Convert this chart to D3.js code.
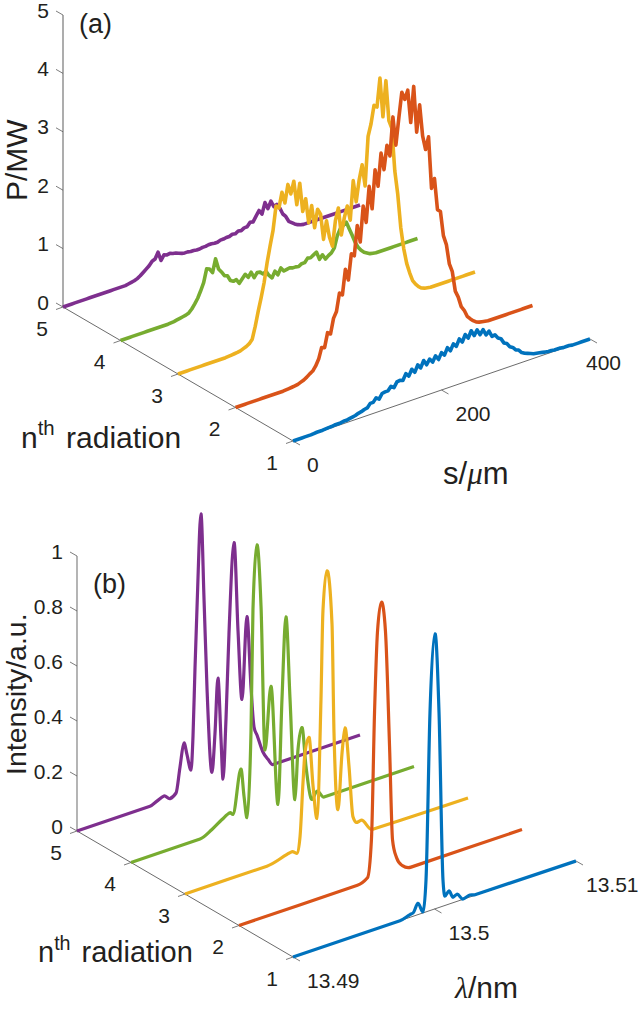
<!DOCTYPE html>
<html>
<head>
<meta charset="utf-8">
<script src="https://cdn.jsdelivr.net/npm/d3@7"></script>
<style>
body { margin: 0; background: #fff; }
svg { display: block; }
text { font-family: "Liberation Sans", Arial, sans-serif; fill: #231f20; }
</style>
</head>
<body>
<div id="plot"></div>
<script>
const width = 640
const height = 1011

const radiationOrder = [5, 4, 3, 2, 1]
const radiationTicks = [1, 2, 3, 4, 5]
const powerTicks = [0, 1, 2, 3, 4, 5]
const positionTicks = [0, 200, 400]
const intensityTicks = [0, 0.2, 0.4, 0.6, 0.8, 1]
const wavelengthTicks = [13.49, 13.5, 13.51]

// s in um, every 4 um
const positionGrid = d3.range(0, 404, 4)

const powerN1 = [
  0, 0, 0, 0, 0, 0, 0, .005, .01, .01,
  .01, .015, .02, .02, .03, .03, .03, .04, .04, .05,
  .06, .07, .09, .1, .12, .13, .19, .19, .25, .21,
  .29, .3, .3, .36, .32, .4, .41, .39, .49, .43,
  .53, .46, .57, .5, .61, .52, .6, .53, .62, .54,
  .64, .58, .69, .62, .72, .66, .77, .7, .81, .73,
  .84, .74, .82, .72, .79, .68, .73, .62, .63, .56,
  .53, .44, .41, .34, .31, .25, .23, .17, .14, .12,
  .1, .08, .07, .06, .05, .04, .03, .03, .02, .02,
  .02, .01, .01, .01, 0, 0, 0, 0, 0, 0,
  0]
const powerN2 = [
  0, 0, 0, 0, 0, 0, 0, 0, 0, 0,
  0, 0, 0, 0, 0, 0, 0, .005, .01, .015,
  .02, .03, .05, .07, .1, .14, .17, .24, .34, .52,
  .5, .74, .7, .95, 1.05, 1.35, 1.3, 1.72, 1.52, 1.95,
  1.9, 2.4, 2.1, 2.7, 2.4, 3.0, 2.6, 3.25, 2.95, 3.5,
  3.2, 3.6, 3.4, 4.05, 3.55, 4.0, 4.42, 4.28, 4.42, 3.85,
  4.45, 3.65, 4.1, 3.55, 3.3, 3.5, 2.6, 2.75, 2.2, 2.15,
  1.72, 1.55, 1.2, 1.05, .7, .58, .4, .32, .2, .14,
  .09, .05, .03, .02, .01, 0, 0, 0, 0, 0,
  0, 0, 0, 0, 0, 0, 0, 0, 0, 0,
  0]
const powerN3 = [
  0, 0, 0, 0, 0, 0, 0, 0, 0, 0,
  0, 0, 0, 0, 0, 0, 0, .005, .01, .015,
  .02, .03, .05, .07, .1, .16, .36, .6, .82, 1.06,
  1.38, 1.65, 1.9, 2.3, 2.25, 2.5, 2.3, 2.6, 2.42, 2.62,
  2.2, 2.55, 2.05, 2.25, 1.82, 2.1, 1.7, 2.0, 1.9, 1.45,
  1.75, 1.45, 1.28, 1.7, 1.9, 1.42, 1.7, 1.88, 1.62, 2.28,
  1.9, 2.26, 2.5, 2.12, 2.95, 3.15, 3.45, 3.4, 3.88, 3.2,
  3.8, 3.1, 2.95, 2.2, 1.78, 1.2, .82, .55, .37, .22,
  .14, .08, .04, .02, .01, 0, 0, 0, 0, 0,
  0, 0, 0, 0, 0, 0, 0, 0, 0, 0,
  0]
const powerN4 = [
  0, 0, 0, 0, 0, 0, 0, 0, 0, 0,
  0, 0, 0, 0, 0, 0, 0, .005, .01, .02,
  .03, .04, .05, .07, .12, .19, .27, .38, .5, .72,
  .7, .62, .84, .65, .58, .5, .48, .38, .35, .36,
  .28, .34, .4, .33, .4, .29, .36, .35, .3, .33,
  .24, .18, .28, .2, .3, .23, .24, .25, .23, .23,
  .22, .25, .25, .31, .3, .33, .36, .22, .28, .19,
  .23, .26, .33, .52, .62, .66, .7, .57, .44, .3,
  .2, .13, .08, .05, .02, .01, 0, 0, 0, 0,
  0, 0, 0, 0, 0, 0, 0, 0, 0, 0,
  0]
const powerN5 = [
  0, 0, 0, 0, 0, 0, 0, 0, 0, 0,
  0, 0, 0, 0, 0, 0, 0, 0, 0, 0,
  0, 0, .01, .02, .03, .05, .08, .12, .16, .2,
  .26, .28, .38, .22, .3, .28, .29, .27, .26, .24,
  .22, .21, .21, .2, .2, .19, .19, .2, .2, .21,
  .21, .2, .2, .22, .22, .23, .23, .25, .24, .27,
  .26, .29, .29, .35, .34, .42, .5, .42, .6, .48,
  .59, .48, .5, .42, .3, .24, .14, .1, .06, .03,
  .01, 0, 0, 0, 0, 0, 0, 0, 0, 0,
  0, 0, 0, 0, 0, 0, 0, 0, 0, 0,
  0]

const lambdaN1 = [13.49, 13.49756, 13.49827, 13.49848, 13.49883, 13.49919, 13.4994, 13.49968, 13.50004, 13.50032, 13.5006, 13.50074, 13.50102, 13.50131, 13.50159, 13.50201, 13.50251, 13.50286, 13.51]
const intensityN1 = [0, 0, .01, .012, .041, .004, .116, .718, 1, .708, .095, .034, .048, .02, .026, .001, .007, .002, 0]

const lambdaN2 = [13.49, 13.49837, 13.49908, 13.49936, 13.49958, 13.49979, 13.50007, 13.50035, 13.50064, 13.50085, 13.50113, 13.50155, 13.50216, 13.51]
const intensityN2 = [0, 0, .015, .149, .611, .9, 1, .89, .465, .122, .053, .016, 0, 0]

const lambdaN3 = [13.49, 13.49579, 13.49721, 13.49756, 13.49792, 13.49813, 13.49834, 13.49848, 13.49876, 13.49905, 13.49933, 13.49961, 13.49975, 13.50004, 13.50039, 13.50053, 13.50081, 13.5011, 13.50131, 13.50159, 13.50187, 13.50216, 13.50244, 13.50322, 13.51]
const intensityN3 = [0, 0, .018, .022, .01, .067, .26, .366, .417, .234, .112, .54, .86, 1, .8, .403, .118, .32, .407, .262, .074, .048, .051, .004, 0]

const lambdaN4 = [13.49, 13.49488, 13.49572, 13.49643, 13.497, 13.49721, 13.49777, 13.49799, 13.4982, 13.49848, 13.49862, 13.4989, 13.49919, 13.49947, 13.49989, 13.50039, 13.50067, 13.50095, 13.50124, 13.50159, 13.5018, 13.50208, 13.50237, 13.50279, 13.50314, 13.50364, 13.51]
const intensityN4 = [0, 0, .02, .044, .059, .049, .204, .1, .02, .326, .77, 1, .77, .244, .468, .03, .407, .702, .397, .026, .204, .28, .132, .006, .03, 0, 0]

const lambdaN5 = [13.49, 13.49516, 13.49565, 13.49615, 13.49657, 13.497, 13.49728, 13.49756, 13.49777, 13.49806, 13.4982, 13.49834, 13.4985, 13.49876, 13.49898, 13.49919, 13.49954, 13.49975, 13.49996, 13.50018, 13.50032, 13.50053, 13.50074, 13.5011, 13.50138, 13.50166, 13.50201, 13.5023, 13.50251, 13.50272, 13.50314, 13.5035, 13.50385, 13.51]
const intensityN5 = [0, 0, .01, .02, .003, .016, .106, .188, .143, .081, .204, .448, .692, 1, .682, .356, .047, .183, .382, .153, .009, .224, .529, .855, .529, .275, .57, .305, .16, .127, .058, .025, 0, 0]

const lineColor = {1: '#0072bd', 2: '#d95319', 3: '#edb120', 4: '#77ac30', 5: '#7e2f8e'}

const powerLines = {1: powerN1, 2: powerN2, 3: powerN3, 4: powerN4, 5: powerN5}
const lambdaLines = {1: lambdaN1, 2: lambdaN2, 3: lambdaN3, 4: lambdaN4, 5: lambdaN5}
const intensityLines = {1: intensityN1, 2: intensityN2, 3: intensityN3, 4: intensityN4, 5: intensityN5}

// initialize svg
const svg = d3.select('div#plot').append('svg')
    .attr('width', width)
    .attr('height', height)
    .attr('viewBox', [0, 0, width, height])

// scales of the oblique 3D view
function makeScales(p) {
    return {
        xAlong: d3.scaleLinear().domain(p.xDomain).range([0, p.xRun]),
        yAlong: d3.scaleLinear().domain(p.xDomain).range([0, -p.xRise]),
        xDepth: d3.scaleLinear().domain([1, 5]).range([p.origin[0], p.back[0]]),
        yDepth: d3.scaleLinear().domain([1, 5]).range([p.origin[1], p.back[1]]),
        zUp: d3.scaleLinear().domain(p.zDomain).range([0, -p.zHeight])
    }
}

function drawAxes(g, p, sc) {
    const axisColor = '#5a5a5a'
    const x0 = p.xDomain[0]
    const x1 = p.xDomain[1]
    const zTop = p.zDomain[1]
    const project = (x, n, z) => [sc.xAlong(x) + sc.xDepth(n), sc.yAlong(x) + sc.yDepth(n) + sc.zUp(z)]

    const segment = (a, b, color, w) => {
        g.append('line')
            .attr('x1', a[0]).attr('y1', a[1])
            .attr('x2', b[0]).attr('y2', b[1])
            .attr('stroke', color)
            .attr('stroke-width', w)
    }
    const tickLabel = (x, y, label, anchor) => {
        g.append('text')
            .attr('x', x)
            .attr('y', y)
            .attr('font-size', 21)
            .attr('text-anchor', anchor)
            .attr('dominant-baseline', 'central')
            .text(label)
    }

    // vertical axis and its slanted ticks
    segment(project(x0, 5, 0), project(x0, 5, zTop), p.zAxisColor, p.zAxisWidth)
    p.zTicks.forEach(t => {
        const [x, y] = project(x0, 5, t)
        segment([x - 7, y - 4], [x, y], axisColor, 0.8)
        tickLabel(p.zLabelX, y - 5, t, 'end')
    })

    // depth axis
    segment(project(x0, 1, 0), project(x0, 5, 0), axisColor, 0.9)
    radiationTicks.forEach(n => {
        const [x, y] = project(x0, n, 0)
        segment([x - 7, y + 2.5], [x, y], axisColor, 0.8)
        tickLabel(x - 21, y + 21, n, 'middle')
    })

    // front axis
    segment(project(x0, 1, 0), project(x1, 1, 0), axisColor, 0.9)
    p.xTicks.forEach(t => {
        const [x, y] = project(t, 1, 0)
        segment([x, y], [x + 7, y + 4], axisColor, 0.8)
        tickLabel(Math.min(x + 14, width - 54), y + 23, t, 'start')
    })
}

// each trace is built flat in (x, z), then sheared onto its place along the depth axis
function drawLines(g, p, sc, xOf, zOf, curve, strokeWidth) {
    const shear = -p.xRise / p.xRun

    radiationOrder.forEach(n => {
        const xs = xOf(n)
        const line = d3.line()
            .x((z, i) => sc.xAlong(xs[i]))
            .y(z => sc.zUp(z))
            .curve(curve)

        g.append('path')
            .attr('d', line(zOf(n)))
            .attr('transform', 'matrix(1,' + shear + ',0,1,' + sc.xDepth(n) + ',' + sc.yDepth(n) + ')')
            .attr('vector-effect', 'non-scaling-stroke')
            .attr('fill', 'none')
            .attr('stroke', lineColor[n])
            .attr('stroke-width', strokeWidth)
            .attr('stroke-linejoin', 'round')
    })
}

function drawRadiationLabel(x, y, size) {
    const label = svg.append('text')
        .attr('x', x)
        .attr('y', y)
        .attr('font-size', size)
    label.append('tspan').text('n')
    label.append('tspan')
        .attr('font-size', size * 0.68)
        .attr('dy', -size * 0.42)
        .text('th')
    label.append('tspan')
        .attr('dy', size * 0.42)
        .attr('dx', size * 0.1)
        .attr('xml:space', 'preserve')
        .text(' radiation')
}

// Panel (a)
const panelA = {
    xDomain: [0, 400], xRun: 297, xRise: 102,
    zDomain: [0, 5], zHeight: 292,
    origin: [293, 441], back: [63, 307],
    zAxisColor: '#999', zAxisWidth: 1.6,
    zTicks: powerTicks, xTicks: positionTicks, zLabelX: 49
}
const scalesA = makeScales(panelA)
const gA = svg.append('g')
drawAxes(gA, panelA, scalesA)
drawLines(gA, panelA, scalesA, () => positionGrid, n => powerLines[n], d3.curveLinear, 3.6)

svg.append('text')
    .attr('transform', 'translate(27,201) rotate(-90)')
    .attr('font-size', 30)
    .text('P/MW')
svg.append('text')
    .attr('x', 79)
    .attr('y', 33)
    .attr('font-size', 27)
    .text('(a)')
drawRadiationLabel(21, 448, 30)

const sLabel = svg.append('text')
    .attr('x', 443)
    .attr('y', 484)
    .attr('font-size', 31)
sLabel.append('tspan').text('s/')
sLabel.append('tspan')
    .attr('font-family', '"Liberation Serif", serif')
    .attr('font-style', 'italic')
    .text('\u03bc')
sLabel.append('tspan').text('m')

// Panel (b)
const panelB = {
    xDomain: [13.49, 13.51], xRun: 283, xRise: 96,
    zDomain: [0, 1], zHeight: 275,
    origin: [293, 957], back: [77, 831],
    zAxisColor: '#777', zAxisWidth: 1.1,
    zTicks: intensityTicks, xTicks: wavelengthTicks, zLabelX: 63
}
const scalesB = makeScales(panelB)
const gB = svg.append('g')
drawAxes(gB, panelB, scalesB)
drawLines(gB, panelB, scalesB, n => lambdaLines[n], n => intensityLines[n], d3.curveMonotoneX, 3.2)

svg.append('text')
    .attr('transform', 'translate(26,775) rotate(-90)')
    .attr('font-size', 28.5)
    .text('Intensity/a.u.')
svg.append('text')
    .attr('x', 93)
    .attr('y', 593)
    .attr('font-size', 27)
    .text('(b)')
drawRadiationLabel(38, 962, 29)

const lambdaLabel = svg.append('text')
    .attr('x', 455)
    .attr('y', 998)
    .attr('font-size', 30)
lambdaLabel.append('tspan')
    .attr('font-family', '"Liberation Serif", serif')
    .attr('font-style', 'italic')
    .text('\u03bb')
lambdaLabel.append('tspan').text('/nm')
</script>
</body>
</html>
